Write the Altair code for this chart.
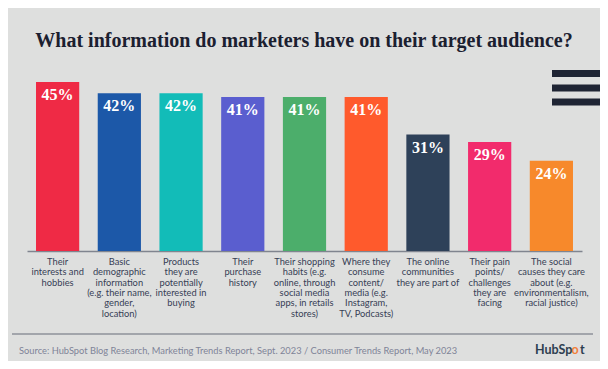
import altair as alt
import pandas as pd

categories = [
    "Their\ninterests and\nhobbies",
    "Basic\ndemographic\ninformation\n(e.g. their name,\ngender,\nlocation)",
    "Products\nthey are\npotentially\ninterested in\nbuying",
    "Their\npurchase\nhistory",
    "Their shopping\nhabits (e.g.\nonline, through\nsocial media\napps, in retails\nstores)",
    "Where they\nconsume\ncontent/\nmedia (e.g.\nInstagram,\nTV, Podcasts)",
    "The online\ncommunities\nthey are part of",
    "Their pain\npoints/\nchallenges\nthey are\nfacing",
    "The social\ncauses they care\nabout (e.g.\nenvironmentalism,\nracial justice)",
]
values = [45, 42, 42, 41, 41, 41, 31, 29, 24]
colors = ["#ef2a45", "#1c58a8", "#12bcb8", "#5a5ecf", "#4cae6b",
          "#ff5a2c", "#2e4159", "#f22b6c", "#f7892b"]

title_text = "What information do marketers have on their target audience?"
source_text = "Source: HubSpot Blog Research, Marketing Trends Report, Sept. 2023 / Consumer Trends Report, May 2023"

df = pd.DataFrame({
    "cat": categories,
    "value": values,
    "label": [f"{v}%" for v in values],
    "color": colors,
})

W, H = 555, 169
BG = "#dedfde"
SERIF = "Liberation Serif"

x_enc = alt.X("cat:N", sort=None,
              scale=alt.Scale(paddingInner=0.3, paddingOuter=0.146),
              axis=alt.Axis(title=None, labels=False, ticks=False,
                            domain=True, domainColor="#80858f", domainWidth=1.5))
y_scale = alt.Scale(domain=[0, 45], nice=False, zero=True)

base = alt.Chart(df)

bars = base.mark_bar().encode(
    x=x_enc,
    y=alt.Y("value:Q", scale=y_scale, axis=None),
    color=alt.Color("color:N", scale=None, legend=None),
)

vals = base.mark_text(font=SERIF, fontWeight="bold", fontSize=16,
                      color="white", baseline="middle", dy=13).encode(
    x=alt.X("cat:N", sort=None),
    y=alt.Y("value:Q", scale=y_scale),
    text="label:N",
)

cat_labels = base.mark_text(font="Lato", fontSize=9.3, lineHeight=10.3,
                            lineBreak="\n", baseline="top", color="#364055").encode(
    x=alt.X("cat:N", sort=None),
    y=alt.value(H + 7),
    text="cat:N",
)

one = pd.DataFrame({"t": [title_text]})
title = alt.Chart(one).mark_text(font=SERIF, fontWeight="bold",
                                 fontSize=20, color="#1b2030",
                                 baseline="middle", align="center").encode(
    x=alt.value(277), y=alt.value(-41), text="t:N")

src = alt.Chart(pd.DataFrame({"t": [source_text]})).mark_text(
    font="Lato", fontSize=9.3, color="#7f8498", align="left", baseline="middle").encode(
    x=alt.value(-8), y=alt.value(269), text="t:N")

logo_a = alt.Chart(pd.DataFrame({"t": ["HubSp"]})).mark_text(
    font="Lato", fontWeight="bold", fontSize=12.5, color="#2d3e50",
    align="left", baseline="middle").encode(
    x=alt.value(508), y=alt.value(268), text="t:N")
logo_o = alt.Chart(pd.DataFrame({"t": ["o"]})).mark_text(
    font="Lato", fontWeight="bold", fontSize=12.5, color="#f2803a",
    align="center", baseline="middle").encode(
    x=alt.value(548), y=alt.value(268), text="t:N")
logo_t = alt.Chart(pd.DataFrame({"t": ["t"]})).mark_text(
    font="Lato", fontWeight="bold", fontSize=12.5, color="#2d3e50",
    align="left", baseline="middle").encode(
    x=alt.value(553), y=alt.value(268), text="t:N")

footer_rule = alt.Chart(one).mark_rule(color="#8e929a", strokeWidth=1.5).encode(
    x=alt.value(-15), x2=alt.value(566), y=alt.value(252))

ham = alt.Chart(pd.DataFrame({"yy": [-8.5, 6, 20]})).mark_rule(
    color="#1e2433", strokeWidth=7).encode(
    x=alt.value(525), x2=alt.value(575), y=alt.Y("yy:Q", scale=None))

chart = alt.layer(bars, vals, cat_labels, title, src, logo_a, logo_o, logo_t,
                  footer_rule, ham).properties(
    width=W, height=H,
    background=BG,
    padding={"left": 19, "top": 74, "right": 18, "bottom": 110},
    autosize=alt.AutoSizeParams(type="none"),
).configure_view(stroke=None)

chart.save("out.html", embed_options={"renderer": "svg", "actions": False})
